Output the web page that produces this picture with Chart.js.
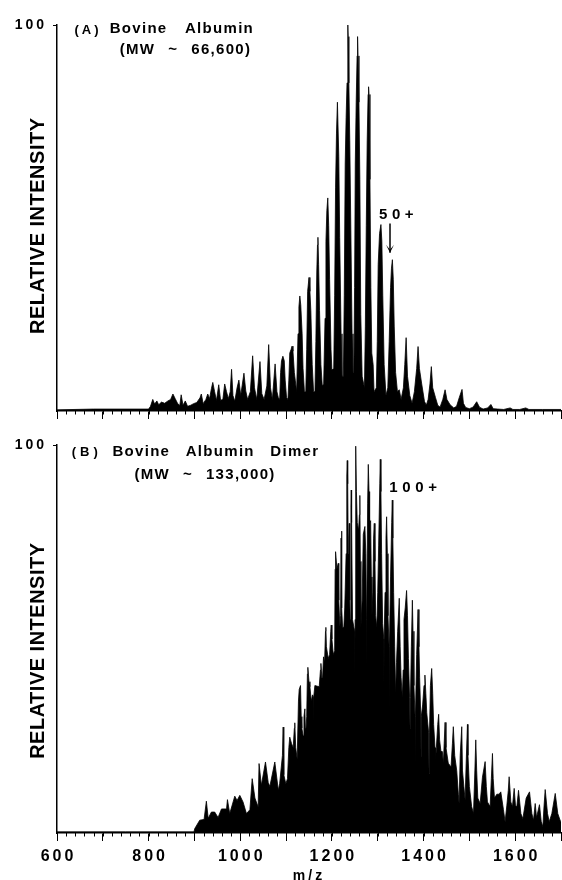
<!DOCTYPE html>
<html>
<head>
<meta charset="utf-8">
<title>Bovine Albumin</title>
<script src="https://cdn.jsdelivr.net/npm/chart.js@4"></script>
<style>
    html, body { margin: 0; padding: 0; background: #fff; overflow: hidden; }
    canvas { position: absolute; left: 0; }
    #chartA { top: 0; }
    #chartB { top: 430px; }
</style>
</head>
<body>
<canvas id="chartA" width="562" height="430"></canvas>
<canvas id="chartB" width="562" height="450"></canvas>
<script>
// Panel A: monomer spectrum
const mzA = [600, 680, 800, 804, 809, 813, 818, 822, 828, 835, 842, 848, 853, 858, 863, 868, 871, 875, 880, 885,
    892, 898, 905, 912, 915, 919, 925, 929, 933, 937, 940, 944, 948, 953, 957, 962, 966, 970, 974, 978,
    981, 984, 988, 993, 997, 1001, 1004, 1008, 1012, 1016, 1022, 1027, 1031, 1036, 1043, 1047, 1052, 1058, 1062, 1066,
    1070, 1076, 1080, 1083,
    1086, 1088, 1090, 1093, 1096, 1098, 1101,
    1104, 1106, 1108, 1111, 1113, 1115, 1118, 1120, 1123,
    1126, 1128, 1130, 1132, 1135, 1137, 1140,
    1143, 1145, 1147, 1150, 1152, 1154, 1157, 1160,
    1163, 1165, 1167, 1168.5, 1169.5, 1171, 1173, 1176, 1179,
    1182, 1185, 1187, 1189, 1191, 1193, 1195, 1198, 1200,
    1204, 1206, 1208, 1210, 1212, 1213, 1215, 1217, 1220, 1222,
    1225, 1227, 1229, 1231, 1233, 1234.5, 1235, 1235.5, 1237, 1239, 1241, 1244, 1246,
    1248, 1249.5, 1251, 1253, 1255, 1256, 1257, 1259, 1261, 1263, 1266,
    1271, 1273, 1275, 1277, 1279, 1280, 1281, 1283, 1285, 1287, 1290, 1292,
    1297, 1299, 1301, 1304, 1307, 1309, 1311, 1314, 1318,
    1322, 1325, 1328, 1330, 1332, 1334, 1336, 1339, 1343,
    1347, 1351, 1356, 1359, 1362, 1365, 1370, 1375, 1380, 1385, 1388,
    1391, 1396, 1402, 1406, 1410, 1414, 1417, 1420, 1426, 1431, 1436, 1442, 1447, 1451, 1458, 1466, 1472, 1478, 1484, 1487,
    1492, 1500, 1508, 1516, 1522, 1530, 1540, 1547, 1552, 1562, 1575, 1589, 1595, 1610, 1623, 1630, 1660, 1700];
const intensityA = [0.3, 0.5, 0.5, 1.2, 3.0, 1.8, 2.6, 1.6, 2.3, 2.0, 2.6, 3.0, 4.4, 3.2, 2.0, 1.4, 4.2, 1.5, 2.6, 1.2,
    1.5, 1.9, 2.2, 3.4, 4.4, 1.9, 3.0, 4.4, 3.2, 5.8, 7.4, 5.0, 2.7, 6.8, 2.8, 3.0, 7.0, 5.0, 3.2, 5.0,
    10.8, 4.0, 2.5, 6.0, 8.0, 4.0, 6.5, 9.8, 5.2, 3.0, 5.0, 14.3, 6.0, 3.0, 12.8, 4.5, 3.0, 6.5, 17.2, 6.0,
    3.0, 12.2, 5, 3.5,
    3, 10, 13, 14.2, 13, 8, 3.5,
    3, 8, 15, 16, 16.8, 15.5, 10, 8, 5,
    20, 27, 29.8, 27.5, 20, 11, 5,
    5, 16, 31, 34.6, 31, 26, 12, 5,
    5, 18, 36, 43, 45, 38, 26, 12, 6.5,
    7, 24, 44, 52, 55.2, 48, 34, 16, 10.6,
    11, 30, 58, 72, 80, 80, 66, 45, 20, 9,
    9, 30, 64, 76, 85, 97, 100, 97, 85, 70, 50, 20, 10,
    10, 32, 64, 80, 92, 97, 92, 80, 60, 25, 9,
    6, 22, 48, 70, 82, 84, 82, 60, 32, 15, 12, 5,
    6, 18, 38, 46, 48.3, 44, 30, 12, 4,
    6, 18, 32, 37, 39.2, 34, 22, 10, 5,
    5.5, 3, 6, 12, 19, 9, 4, 2, 5, 11, 16.7,
    11, 7, 2.5, 1.5, 3, 7, 11.5, 6, 3.5, 1.5, 1, 3, 5.5, 3, 1.6, 0.8, 1.2, 3.5, 5.6, 2,
    0.9, 0.6, 1, 2.4, 1, 0.5, 0.8, 1.7, 0.6, 0.5, 0.4, 0.8, 0.4, 0.4, 0.8, 0.4, 0.4, 0.4];

// Panel B: dimer spectrum
const mzB = [600, 750, 899, 900.5, 911.5, 921, 926, 930, 937, 944.2, 951.5, 959, 970, 972, 977, 988, 993, 999, 1006, 1013.5,
    1021, 1026, 1032, 1039, 1041, 1046, 1055, 1061, 1064.5, 1075.4, 1083,
    1086, 1092, 1093.6, 1095, 1099.4, 1103, 1106, 1108, 1112, 1115.5, 1118, 1119, 1121, 1124.2, 1127,
    1128.6, 1131.5, 1133, 1134.4, 1137.3, 1139, 1141, 1142, 1143, 1145,
    1146.5, 1147.5, 1150, 1152, 1155, 1157.7, 1159.5, 1160, 1160.5, 1162.8,
    1172.3, 1175, 1176, 1178, 1179.6, 1181.7, 1184, 1186, 1186.8, 1188,
    1192, 1195, 1197.5, 1198.5, 1200, 1203, 1206, 1207, 1208, 1211,
    1213.8, 1215, 1217.4, 1219, 1220, 1220.8, 1222, 1223.3, 1226, 1228,
    1231, 1232.5, 1233.5, 1234.5, 1235.7, 1237, 1237.9, 1239, 1240, 1241.5,
    1242.2, 1243, 1245, 1248, 1249.8, 1250.2, 1250.6, 1251.5, 1252.4, 1253.5,
    1255.3, 1258.2, 1260, 1261, 1262, 1263.3, 1266, 1268.5, 1272, 1274,
    1275.3, 1275.7, 1276.2, 1278, 1279.4, 1281, 1282.3, 1284.5, 1286, 1287.4,
    1289.5, 1291, 1292.5, 1294, 1295.4, 1298, 1300, 1302, 1304.5, 1305.6,
    1307, 1308.5, 1310.7, 1313.2, 1313.6, 1314, 1316, 1318, 1319.4, 1321,
    1322.4, 1324.8, 1325.3, 1325.8, 1328, 1330.5, 1331.8, 1333, 1334.7, 1337,
    1339, 1341, 1343.5, 1346, 1347, 1349, 1351, 1353.7, 1355.5, 1357.3,
    1360, 1363, 1365, 1367, 1369.5, 1370.5, 1371.5, 1373.4, 1375.6, 1377,
    1379, 1381.5, 1382, 1382.5, 1385, 1388, 1390, 1391.5, 1394, 1394.5,
    1395, 1398, 1401, 1403, 1405, 1407, 1411, 1412, 1413, 1415,
    1417.8, 1420, 1422, 1425, 1426, 1428, 1431, 1433, 1435, 1438,
    1441, 1443.3, 1445, 1447, 1449, 1454, 1460, 1463, 1465, 1468,
    1472.5, 1476, 1477.6, 1480, 1483.4, 1485, 1488, 1490.7, 1493, 1495.8,
    1497, 1500, 1505, 1509, 1512, 1514, 1516, 1518.4, 1523.5, 1528.6, 1534.4, 1537, 1539.5, 1545.3, 1548, 1550.4, 1552, 1554.8, 1560, 1565, 1568.6,
    1574.4, 1578, 1581.7, 1585, 1586.8, 1590.5, 1594, 1597.8, 1600.7, 1603.6, 1607.3, 1612.4, 1616.7, 1624, 1631.3, 1636.4, 1640, 1643.7, 1646.6, 1653, 1656.8,
    1660.4, 1663, 1665.5, 1670.6, 1674.3, 1680, 1687.4, 1693, 1698, 1700];
const intensityB = [0.3, 0.3, 0.3, 1.1, 3.3, 3.5, 8.2, 3.8, 5.4, 5.4, 4, 6.2, 6.2, 8.6, 5, 9.5, 8.4, 9.7, 8, 5,
    6, 14, 9, 6.7, 17.9, 12.3, 18.3, 13, 12, 18.3, 11,
    12.8, 20, 27.3, 15, 12.7, 14, 22, 24.7, 23, 22, 27, 28.4, 22, 19, 34,
    37, 38, 30, 27, 25, 30, 32, 27, 26, 30,
    41, 42.7, 39, 37.7, 34, 35.6, 35, 28.7, 35, 38,
    37.7, 42, 43.7, 40, 40, 45.4, 44, 52, 53, 48,
    45, 46, 52, 53.6, 50, 46, 47, 68, 72.5, 68,
    69.5, 60, 53.2, 56, 76, 77.8, 58, 53, 53, 58,
    72, 92, 96, 90, 72, 76, 79.8, 60, 55, 84,
    88.4, 80, 55, 53, 52, 41, 55, 90, 99.7, 88,
    80, 78, 82, 87, 70, 53, 60, 77, 79, 72,
    55, 42.9, 55, 85, 95, 88, 80, 80.5, 66, 56,
    62, 76, 79.8, 70, 56, 53, 62, 74, 90, 96.3,
    88, 72, 54, 50, 38.6, 50, 62, 76, 81.5, 72,
    56, 48, 31.7, 48, 66, 80, 85.8, 76, 62, 48,
    36, 44, 52, 58, 60.5, 48, 40, 35, 42, 55,
    58, 62.5, 56, 45, 35, 27, 35, 48, 60, 52,
    38, 30, 17.5, 30, 46, 57.6, 48, 40, 30, 19.7,
    30, 33, 38, 40.7, 36, 31, 26, 15.3, 26, 38,
    42.4, 36, 28, 22, 18, 22, 28, 30.6, 24, 21,
    21, 18, 23, 28.5, 22, 18, 17, 23, 27.4, 20,
    16, 10, 7.6, 20, 27.4, 16, 12, 8.5, 18, 28,
    20, 12, 6.8, 5, 16, 24, 16, 9, 7.6, 14.4, 18.4, 12, 8, 6.8, 14, 20.5, 14, 9, 10, 10, 10.6,
    6, 2.9, 7, 11, 14.5, 8, 6.8, 11.5, 7, 6.8, 11, 5, 3.7, 9, 10.6, 5, 3.3, 7.6, 4, 7.3, 3,
    1.6, 7, 11.2, 5, 2.9, 5, 10.2, 5, 3.3, 2.9];

const minorTickValues = [];
for (let v = 600; v <= 1700; v += 20) minorTickValues.push(v);

const yAxisLabel = 'RELATIVE INTENSITY';
const xAxisLabel = 'm/z';

// text: label, at m/z, at intensity, css font, letter spacing, word spacing
const notesA = [
    ['(A)', 638, 98.7, 'bold 13px "Liberation Sans"', '3px', '0px'],
    ['Bovine Albumin', 715, 99, 'bold 15px "Liberation Sans"', '1.3px', '12px'],
    ['(MW ~ 66,600)', 737, 93.5, 'bold 15px "Liberation Sans"', '1.3px', '7.5px'],
    ['50+', 1303, 50.8, 'bold 15px "Liberation Sans"', '4.5px', '0px'],
];
const notesB = [
    ['(B)', 632, 98, 'bold 13px "Liberation Sans"', '4px', '0px'],
    ['Bovine Albumin Dimer', 721, 98.2, 'bold 15px "Liberation Sans"', '1.3px', '10px'],
    ['(MW ~ 133,000)', 769, 92.3, 'bold 15px "Liberation Sans"', '1.3px', '7.5px'],
    ['100+', 1325, 89, 'bold 15px "Liberation Sans"', '4.7px', '0px'],
];
// m/z, from intensity, to intensity
const arrowA = [1326.8, 48.6, 41];

const spectrumExtras = {
    id: 'spectrumExtras',
    beforeDraw(chart) {
        chart.ctx.letterSpacing = '3px';
    },
    afterDraw(chart, args, opts) {
        const ctx = chart.ctx;
        const x = chart.scales.x;
        const y = chart.scales.y;
        const base = chart.chartArea.bottom;

        ctx.save();
        ctx.strokeStyle = '#000';
        ctx.lineWidth = 1;
        ctx.beginPath();
        minorTickValues.forEach(v => {
            const px = Math.round(x.getPixelForValue(v)) + 0.5;
            ctx.moveTo(px, base);
            ctx.lineTo(px, base + 3.5);
        });
        ctx.stroke();

        ctx.fillStyle = '#000';
        ctx.textBaseline = 'middle';
        ctx.textAlign = 'left';
        opts.notes.forEach(n => {
            ctx.font = n[3];
            ctx.letterSpacing = n[4];
            ctx.wordSpacing = n[5];
            ctx.fillText(n[0], x.getPixelForValue(n[1]), y.getPixelForValue(n[2]));
        });

        // rotated axis label, sits lower than the middle of the axis
        ctx.save();
        ctx.translate(x.getPixelForValue(560), y.getPixelForValue(opts.labelAt));
        ctx.rotate(-Math.PI / 2);
        ctx.textAlign = 'center';
        ctx.font = 'bold 20px "Liberation Sans"';
        ctx.letterSpacing = '0.5px';
        ctx.wordSpacing = '0px';
        ctx.fillText(yAxisLabel, 0, 0);
        ctx.restore();

        if (opts.arrow) {
            const ax = x.getPixelForValue(opts.arrow[0]);
            const y0 = y.getPixelForValue(opts.arrow[1]);
            const y1 = y.getPixelForValue(opts.arrow[2]);
            ctx.lineWidth = 1.5;
            ctx.beginPath();
            ctx.moveTo(ax, y0);
            ctx.lineTo(ax, y1);
            ctx.stroke();
            ctx.beginPath();
            ctx.moveTo(ax - 4, y1 - 8);
            ctx.lineTo(ax, y1 - 3);
            ctx.lineTo(ax + 4, y1 - 8);
            ctx.lineTo(ax, y1);
            ctx.closePath();
            ctx.fill();
        }
        ctx.restore();
    }
};

function drawSpectrum(canvasId, mz, intensity, cfg) {
    return new Chart(document.getElementById(canvasId), {
        type: 'line',
        data: {
            datasets: [{
                data: mz.map((m, i) => ({ x: m, y: intensity[i] })),
                borderColor: '#000',
                backgroundColor: '#000',
                borderWidth: 0.8,
                pointRadius: 0,
                tension: 0,
                fill: 'origin',
            }]
        },
        options: {
            responsive: false,
            animation: false,
            layout: { padding: { top: cfg.top, right: 1 } },
            plugins: {
                legend: { display: false },
                tooltip: { enabled: false },
                spectrumExtras: { notes: cfg.notes, labelAt: cfg.labelAt, arrow: cfg.arrow },
            },
            scales: {
                x: {
                    type: 'linear',
                    min: 600,
                    max: 1700,
                    // the 1600 label must not squeeze the plot on the right
                    afterFit: s => { s.height = cfg.axisHeight; s.paddingRight = 0; },
                    border: { color: '#000', width: 1.5 },
                    grid: { drawOnChartArea: false, tickLength: 8, tickColor: '#000', tickWidth: 1 },
                    ticks: {
                        display: cfg.showLabels,
                        stepSize: 100,
                        autoSkip: false,
                        maxRotation: 0,
                        padding: 6,
                        labelOffset: 1.5,
                        color: '#000',
                        font: { family: 'Liberation Sans', size: 16, weight: 'bold' },
                        callback: v => (v % 200 === 0 ? String(v) : ''),
                    },
                    title: {
                        display: cfg.showLabels,
                        text: xAxisLabel,
                        color: '#000',
                        padding: 0,
                        font: { family: 'Liberation Sans', size: 14, weight: 'bold', lineHeight: 0.6 },
                    },
                },
                y: {
                    min: 0,
                    max: 100,
                    afterFit: s => { s.width = 57; },
                    afterBuildTicks: s => { s.ticks = [{ value: 100 }]; },
                    border: { color: '#000', width: 1.5 },
                    grid: { drawOnChartArea: false, tickLength: 4, tickColor: '#000' },
                    ticks: {
                        padding: 6,
                        color: '#000',
                        font: { family: 'Liberation Sans', size: 14, weight: 'bold' },
                    },
                },
            },
        },
        plugins: [spectrumExtras],
    });
}

drawSpectrum('chartA', mzA, intensityA, {
    top: 25, axisHeight: 19, showLabels: false, notes: notesA, labelAt: 48, arrow: arrowA,
});
drawSpectrum('chartB', mzB, intensityB, {
    top: 15, axisHeight: 47, showLabels: true, notes: notesB, labelAt: 47,
});
</script>
</body>
</html>
